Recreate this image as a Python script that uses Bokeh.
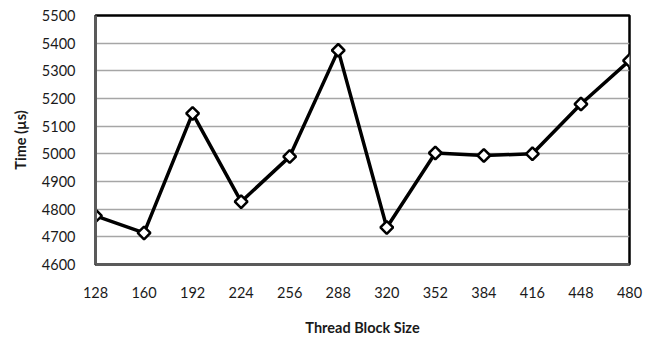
import math
from bokeh.plotting import figure
from bokeh.models import Range1d, FixedTicker
from bokeh.embed import file_html
from bokeh.resources import INLINE

# Execution time per thread block size
block_sizes = ["128", "160", "192", "224", "256", "288", "320", "352", "384", "416", "448", "480"]
times_us = [4776, 4714, 5146, 4827, 4990, 5374, 4734, 5003, 4994, 5000, 5180, 5337]

y_ticks = [4600, 4700, 4800, 4900, 5000, 5100, 5200, 5300, 5400, 5500]

FONT = "Lato"

xs = list(range(len(block_sizes)))

p = figure(
    width=658, height=338,
    output_backend="svg", toolbar_location=None,
    x_range=Range1d(0, len(block_sizes) - 1),
    y_range=Range1d(y_ticks[0], y_ticks[-1]),
    min_border_left=95, min_border_right=29,
    min_border_top=15, min_border_bottom=70,
)
p.background_fill_color = "white"
p.border_fill_color = "white"
p.outline_line_color = "black"
p.outline_line_width = 2.5

# x axis: categorical labels on evenly spaced positions
p.xaxis.ticker = FixedTicker(ticks=xs)
p.xaxis.major_label_overrides = {i: s for i, s in enumerate(block_sizes)}
p.yaxis.ticker = FixedTicker(ticks=y_ticks)

for ax in (p.xaxis, p.yaxis):
    ax.axis_line_color = "#5a5a5a"
    ax.axis_line_width = 3
    ax.major_tick_line_color = None
    ax.minor_tick_line_color = None
    ax.major_label_text_font = FONT
    ax.major_label_text_font_size = "14.5px"
    ax.major_label_text_color = "#1a1a1a"
    ax.axis_label_text_font = FONT
    ax.axis_label_text_font_size = "14.5px"
    ax.axis_label_text_font_style = "bold"
    ax.axis_label_text_color = "#1a1a1a"

p.xaxis.axis_label = "Thread Block Size"
p.yaxis.axis_label = "Time (µs)"
p.xaxis.major_label_standoff = 16
p.yaxis.major_label_standoff = 14
p.xaxis.axis_label_standoff = 18
p.yaxis.axis_label_standoff = 10

p.xgrid.grid_line_color = None
p.ygrid.ticker = FixedTicker(ticks=y_ticks)
p.ygrid.grid_line_color = "#a6a6a6"
p.ygrid.grid_line_width = 1.5

p.line(xs, times_us, line_color="black", line_width=3.5)
# rotated-square markers
p.scatter(xs, times_us, marker="square", angle=math.pi / 4, size=9,
          fill_color="white", line_color="black", line_width=2.5)

open("out.html", "w").write(file_html(p, INLINE))
